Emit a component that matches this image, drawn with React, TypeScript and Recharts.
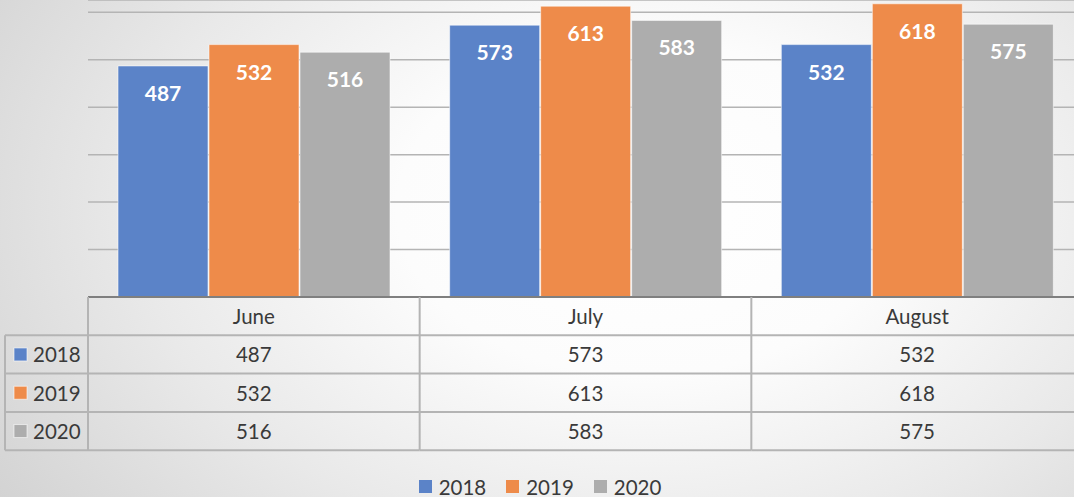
import React from "react";
import {
  BarChart,
  Bar,
  XAxis,
  YAxis,
  CartesianGrid,
  Legend,
  LabelList
} from "recharts";

const months = ["June", "July", "August"];
const seriesNames = ["2018", "2019", "2020"];
const values2018 = [487, 573, 532];
const values2019 = [532, 613, 618];
const values2020 = [516, 583, 575];
const yTicks = [0, 100, 200, 300, 400, 500, 600];

const seriesValues = [values2018, values2019, values2020];
const COLORS = ["#5b83c8", "#ee8b4a", "#adadad"];

const CHART_W = 1083;
const CHART_H = 497;
const LEFT = 88;
const BAND = (CHART_W - LEFT) / months.length;
const ROW_H = 38.3;
const FONT = "Lato, 'Open Sans', sans-serif";
const TEXT = "#3a3a3a";
const LINE = "#b4b4b4";

const data = months.map((m, i) => ({
  month: m,
  "2018": values2018[i],
  "2019": values2019[i],
  "2020": values2020[i]
}));

// draws one column of the data table under each category
const TableTick = (props: any) => {
  const { x, y, payload } = props;
  const idx = payload.index;
  const left = x - BAND / 2;
  const right = x + BAND / 2;
  const bottom = y + ROW_H * 4;
  return (
    <g>
      <line x1={left} x2={left} y1={y} y2={bottom} stroke={LINE} strokeWidth={2} />
      {idx === months.length - 1 && (
        <line x1={right} x2={right} y1={y} y2={bottom} stroke={LINE} strokeWidth={2} />
      )}
      {[1, 2, 3, 4].map((r) => (
        <line key={r} x1={left} x2={right} y1={y + ROW_H * r} y2={y + ROW_H * r} stroke={LINE} strokeWidth={2} />
      ))}
      <text x={x} y={y + ROW_H * 0.5} textAnchor="middle" dominantBaseline="central" fontSize={20.5} fill={TEXT} fontFamily={FONT}>
        {payload.value}
      </text>
      {seriesValues.map((vals, r) => (
        <text key={r} x={x} y={y + ROW_H * (r + 1.5)} textAnchor="middle" dominantBaseline="central" fontSize={20.5} fill={TEXT} fontFamily={FONT}>
          {vals[idx]}
        </text>
      ))}
      {idx === 0 && (
        <g>
          <line x1={5} x2={5} y1={y + ROW_H} y2={bottom} stroke={LINE} strokeWidth={2} />
          {[1, 2, 3, 4].map((r) => (
            <line key={r} x1={5} x2={left} y1={y + ROW_H * r} y2={y + ROW_H * r} stroke={LINE} strokeWidth={2} />
          ))}
          {seriesNames.map((name, r) => (
            <g key={name}>
              <rect x={14} y={y + ROW_H * (r + 1.5) - 6.5} width={13} height={13} fill={COLORS[r]} stroke="#ffffff" strokeOpacity={0.6} />
              <text x={33} y={y + ROW_H * (r + 1.5)} dominantBaseline="central" fontSize={20.5} fill={TEXT} fontFamily={FONT}>
                {name}
              </text>
            </g>
          ))}
        </g>
      )}
    </g>
  );
};

const renderLegend = () => (
  <div
    style={{
      height: 46,
      boxSizing: "border-box",
      paddingTop: 25,
      paddingLeft: 6,
      display: "flex",
      justifyContent: "center",
      fontFamily: FONT,
      fontSize: 20.5,
      color: TEXT,
      lineHeight: "22px"
    }}
  >
    {seriesNames.map((name, i) => (
      <div key={name} style={{ display: "flex", alignItems: "center", marginRight: i < seriesNames.length - 1 ? 20 : 0 }}>
        <span style={{ width: 13, height: 13, background: COLORS[i], marginRight: 7, display: "inline-block" }} />
        <span>{name}</span>
      </div>
    ))}
  </div>
);

export default function App() {
  return (
    <div
      style={{
        position: "absolute",
        top: 0,
        left: 0,
        width: 1074,
        height: CHART_H,
        overflow: "hidden",
        background: "radial-gradient(ellipse 72% 105% at 60% 42%, #ffffff 0%, #fcfcfc 32%, #e9e9e9 66%, #d3d3d3 100%)"
      }}
    >
      <BarChart
        width={CHART_W}
        height={CHART_H}
        data={data}
        margin={{ top: 0, right: 0, left: LEFT, bottom: 0 }}
        barCategoryGap={30}
        barGap={1}
      >
        <CartesianGrid vertical={false} stroke="#b4b4b4" strokeWidth={1.5} />
        <YAxis hide domain={[0, 626]} ticks={yTicks} allowDataOverflow />
        <XAxis
          dataKey="month"
          height={154}
          tickLine={false}
          tickSize={0}
          tickMargin={0}
          interval={0}
          axisLine={{ stroke: "#7f7f7f", strokeWidth: 2 }}
          tick={<TableTick />}
        />
        <Legend verticalAlign="bottom" content={renderLegend} wrapperStyle={{ left: 0, width: 1074 }} />
        {seriesNames.map((name, i) => (
          <Bar
            key={name}
            dataKey={name}
            fill={COLORS[i]}
            stroke="#ffffff"
            strokeOpacity={0.55}
            strokeWidth={1}
            isAnimationActive={false}
          >
            <LabelList
              dataKey={name}
              position="insideTop"
              offset={20}
              fill="#ffffff"
              fontSize={21}
              fontWeight="bold"
              fontFamily={FONT}
            />
          </Bar>
        ))}
      </BarChart>
    </div>
  );
}
